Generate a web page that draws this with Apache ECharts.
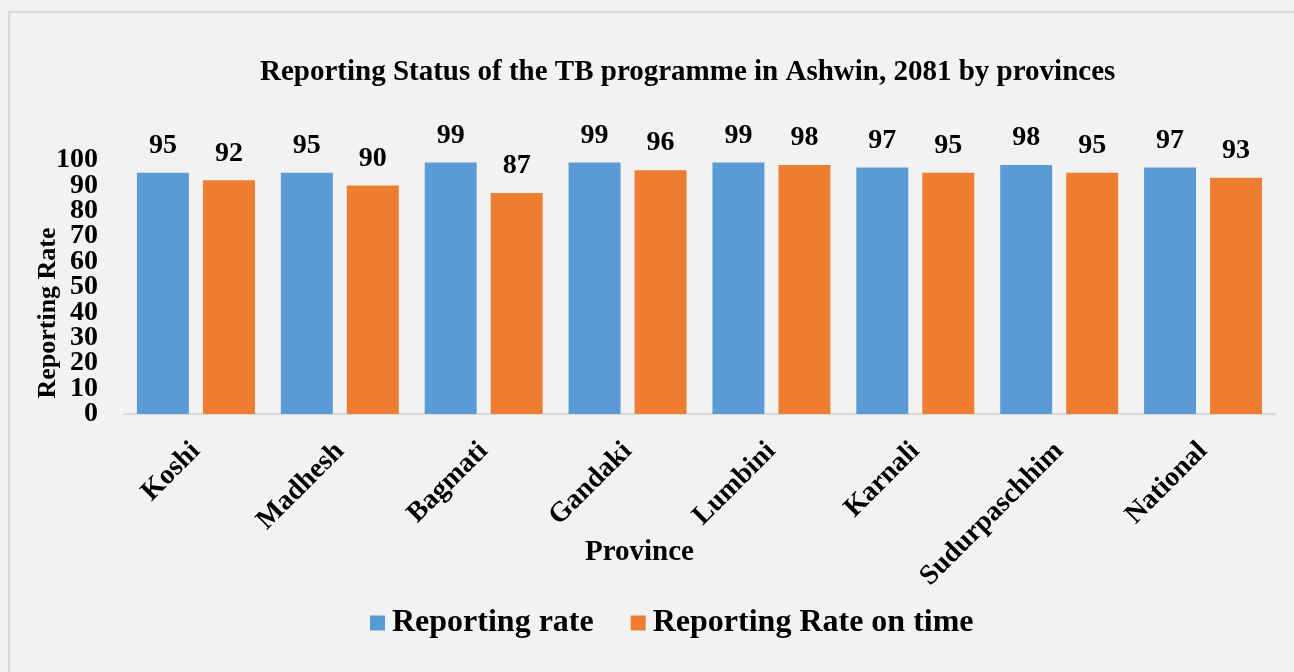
<!DOCTYPE html>
<html>
<head>
<meta charset="UTF-8">
<title>Reporting Status of the TB programme</title>
<style>
  html, body { margin: 0; padding: 0; background: #f2f2f2; }
  #main { width: 1294px; height: 672px; }
</style>
</head>
<body>
<div id="main"></div>
<script src="https://cdn.jsdelivr.net/npm/echarts@6/dist/echarts.min.js"></script>
<script>
var provinces = ['Koshi', 'Madhesh', 'Bagmati', 'Gandaki', 'Lumbini', 'Karnali', 'Sudurpaschhim', 'National'];
var reportingRate = [95, 95, 99, 99, 99, 97, 98, 97];
var reportingOnTime = [92, 90, 87, 96, 98, 95, 95, 93];

var serif = "'Liberation Serif', 'Times New Roman', serif";
var tickFont = { fontFamily: serif, fontWeight: 'bold', fontSize: 28, color: '#000' };

// two stacked y axes: the labels overlap, so the end labels (0, 100) go on a second axis
function yAxisBase(extra) {
  var ax = {
    type: 'value',
    position: 'left',
    min: 0,
    max: 100,
    interval: 10,
    splitLine: { show: false },
    axisLine: { show: false },
    axisTick: { show: false }
  };
  for (var k in extra) ax[k] = extra[k];
  return ax;
}

var chart = echarts.init(document.getElementById('main'));
var option = {
  backgroundColor: '#f2f2f2',
  color: ['#5b9bd5', '#ed7d31'],
  graphic: [{
    type: 'rect',
    shape: { x: 9, y: 12, width: 1400, height: 800 },
    style: { fill: 'none', stroke: '#d9d9d9', lineWidth: 2 },
    silent: true
  }],
  title: {
    text: 'Reporting Status of the TB programme in Ashwin, 2081 by provinces',
    left: 255,
    top: 53,
    textStyle: { fontFamily: serif, fontWeight: 'bold', fontSize: 29, color: '#000' }
  },
  legend: {
    left: 365,
    top: 602,
    itemWidth: 15,
    itemHeight: 15,
    itemGap: 37,
    icon: 'rect',
    textStyle: { fontFamily: serif, fontWeight: 'bold', fontSize: 32, color: '#000', padding: [0, 0, 0, 2] },
    data: ['Reporting rate', 'Reporting Rate on time']
  },
  grid: { left: 124, right: 19, top: 160, bottom: 258 },
  xAxis: {
    type: 'category',
    data: provinces,
    name: 'Province',
    nameLocation: 'middle',
    nameGap: 124,
    nameMoveOverlap: false,
    nameTextStyle: { fontFamily: serif, fontWeight: 'bold', fontSize: 29, color: '#000', padding: [0, 120, 0, 0] },
    axisLine: { lineStyle: { color: '#d9d9d9', width: 2 } },
    axisTick: { show: false },
    axisLabel: {
      rotate: 45,
      margin: 33,
      interval: 0,
      fontFamily: serif, fontWeight: 'bold', fontSize: 28, color: '#000'
    }
  },
  yAxis: [
    yAxisBase({
      name: 'Reporting Rate',
      nameLocation: 'middle',
      nameGap: 63,
      nameMoveOverlap: false,
      nameTextStyle: { fontFamily: serif, fontWeight: 'bold', fontSize: 26, color: '#000', padding: [0, 52, 0, 0] },
      axisLabel: Object.assign({ margin: 26, showMinLabel: false, showMaxLabel: false }, tickFont)
    }),
    yAxisBase({
      axisLabel: Object.assign({
        margin: 26,
        showMinLabel: true,
        showMaxLabel: true,
        formatter: function (v) { return (v === 0 || v === 100) ? String(v) : ''; }
      }, tickFont)
    })
  ],
  series: [{
    name: 'Reporting rate',
    type: 'bar',
    data: reportingRate,
    barGap: '27%',
    barCategoryGap: '18%',
    label: { show: true, position: 'top', distance: 13, fontFamily: serif, fontWeight: 'bold', fontSize: 28, color: '#000' }
  }, {
    name: 'Reporting Rate on time',
    type: 'bar',
    data: reportingOnTime,
    barGap: '27%',
    barCategoryGap: '18%',
    label: { show: true, position: 'top', distance: 13, fontFamily: serif, fontWeight: 'bold', fontSize: 28, color: '#000' }
  }]
};
chart.setOption(option);
</script>
</body>
</html>
